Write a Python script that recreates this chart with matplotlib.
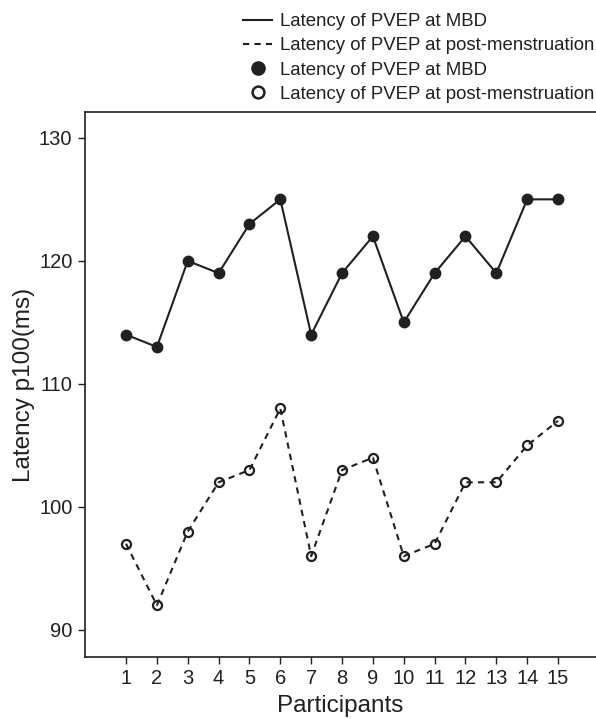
import matplotlib
matplotlib.use('Agg')
import matplotlib.pyplot as plt
from matplotlib.lines import Line2D

plt.rcParams['font.family'] = ['Liberation Sans', 'DejaVu Sans']

participants = list(range(1, 16))
mbd = [114, 113, 120, 119, 123, 125, 114, 119, 122, 115, 119, 122, 119, 125, 125]
post = [97, 92, 98, 102, 103, 108, 96, 103, 104, 96, 97, 102, 102, 105, 107]
label_mbd = 'Latency of PVEP at MBD'
label_post = 'Latency of PVEP at post-menstruation'

fig = plt.figure(figsize=(5.96, 7.19), dpi=100)
ax = fig.add_axes([85/596, 1 - 657/719, 1 - 85/596, (657 - 112)/719])

c = '#231f20'
ax.plot(participants, mbd, '-', color=c, lw=1.5, marker='o', ms=7.5,
        mfc=c, mec=c)
ax.plot(participants, post, '--', color=c, lw=1.5, dashes=(3, 2.5),
        marker='o', ms=6.5, mfc='none', mec=c, mew=1.6)

ax.set_xlim(-0.33, 16.23)
ax.set_ylim(87.8, 132.1)
ax.set_xticks(participants)
ax.set_yticks([90, 100, 110, 120, 130])
ax.tick_params(direction='out', length=5, width=1, labelsize=14.5, colors=c, pad=4)
ax.spines['right'].set_visible(False)
for s in ['left', 'bottom', 'top']:
    ax.spines[s].set_linewidth(1.2)
    ax.spines[s].set_color(c)
ax.set_xlabel('Participants', fontsize=17.5, color=c, labelpad=5)
ax.set_ylabel('Latency p100(ms)', fontsize=17.5, color=c, labelpad=3)

handles = [
    Line2D([], [], color=c, lw=1.5, ls='-'),
    Line2D([], [], color=c, lw=1.5, ls='--', dashes=(3, 2.5)),
    Line2D([], [], color=c, ls='none', marker='o', ms=9.5, mfc=c, mec=c),
    Line2D([], [], color=c, ls='none', marker='o', ms=8.5, mfc='none', mec=c, mew=1.8),
]
labels = [label_mbd, label_post, label_mbd, label_post]
fig.legend(handles, labels, loc='upper left', bbox_to_anchor=(243/596, 1 - 13/719),
           frameon=False, fontsize=13.4, handlelength=1.56, handletextpad=0.43,
           labelspacing=0.39, borderpad=0, borderaxespad=0, labelcolor=c)

fig.savefig('out.png', dpi=100)
